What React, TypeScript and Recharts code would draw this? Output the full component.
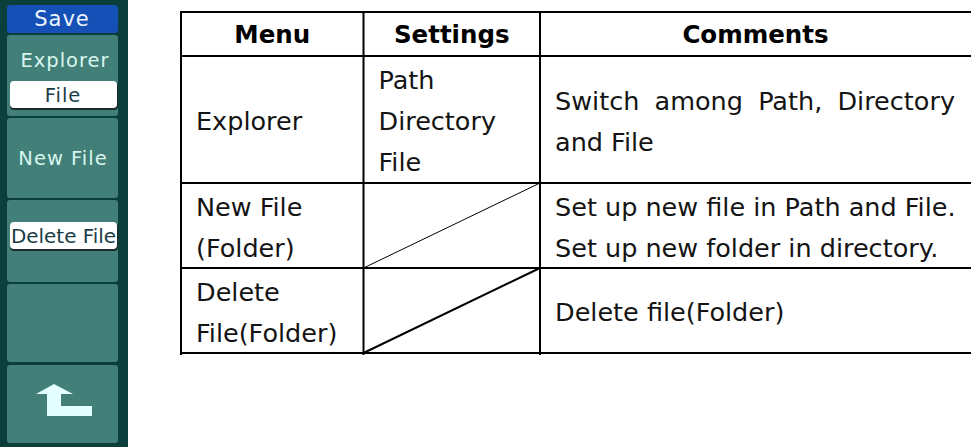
import React from 'react';
import { ComposedChart, XAxis, YAxis, Customized } from 'recharts';

const W = 971;
const H = 447;

// ---- table content ----
const headers = ['Menu', 'Settings', 'Comments'];
const menuCells = [['Explorer'], ['New File', '(Folder)'], ['Delete', 'File(Folder)']];
const settingCells = [['Path', 'Directory', 'File'], [], []];
const commentCells = [
  ['Switch among Path, Directory', 'and File'],
  ['Set up new file in Path and File.', 'Set up new folder in directory.'],
  ['Delete file(Folder)'],
];
const justified = [[true, false], [false, false], [false]];
const diagonalRows = [1, 2];

// ---- softkey menu content ----
const menuTitle = 'Save';
const softkeyLabels = ['Explorer', 'New File', '', '', ''];
const softkeyOptions = ['File', '', 'Delete File', '', ''];
const softkeyIcons = ['', '', '', '', 'return'];

// ---- geometry / style ----
const colX = [181, 363.5, 540, W];
const rowY = [12, 56, 183, 268, 353];
const padX = 15;
const lineGap = 41;
const FONT = '"DejaVu Sans", sans-serif';
const FS = 25.5;
const keyY: [number, number][] = [[35, 116], [118, 198], [200, 282], [284, 362], [365, 443]];

const measure = (text: string, font: string) => {
  const c = document.createElement('canvas').getContext('2d');
  if (!c) return text.length * 12;
  c.font = font;
  return c.measureText(text).width;
};

const Drawing = () => {
  const els: React.ReactNode[] = [];
  // background
  els.push(<rect key="bg" x={0} y={0} width={W} height={H} fill="#ffffff" />);
  // softkey panel
  els.push(<rect key="panel" x={0} y={0} width={128} height={H} fill="#0b3f3b" />);
  els.push(<rect key="title" x={7} y={5} width={111} height={28} rx={3} fill="#1550b6" />);
  els.push(
    <text key="titleT" x={62} y={19} textAnchor="middle" dominantBaseline="central" fontFamily={FONT} fontSize={21} letterSpacing={1} fill="#eef4ff">
      {menuTitle}
    </text>
  );
  keyY.forEach(([y0, y1], i) => {
    els.push(<rect key={`k${i}`} x={7} y={y0} width={111} height={y1 - y0} rx={3} fill="#417f78" />);
    const label = softkeyLabels[i];
    const opt = softkeyOptions[i];
    if (label && opt) {
      els.push(
        <text key={`kl${i}`} x={65} y={60} textAnchor="middle" dominantBaseline="central" fontFamily={FONT} fontSize={19.5} letterSpacing={1} fill="#d8f6ee">
          {label}
        </text>
      );
    } else if (label) {
      els.push(
        <text key={`kl${i}`} x={63} y={(y0 + y1) / 2} textAnchor="middle" dominantBaseline="central" fontFamily={FONT} fontSize={19.5} letterSpacing={1} fill="#d8f6ee">
          {label}
        </text>
      );
    }
    if (opt) {
      const by = label ? 81 : y0 + 22;
      els.push(<rect key={`os${i}`} x={10} y={by + 1} width={108} height={28} rx={4} fill="#1b2a2a" />);
      els.push(<rect key={`ob${i}`} x={10} y={by} width={107} height={27} rx={4} fill="#ffffff" />);
      els.push(
        <text
          key={`ot${i}`}
          x={label ? 63 : 11}
          y={by + 14}
          textAnchor={label ? 'middle' : 'start'}
          dominantBaseline="central"
          fontFamily={FONT}
          fontSize={19.5}
          letterSpacing={label ? 1 : 0}
          textLength={label ? undefined : 105}
          lengthAdjust="spacingAndGlyphs"
          fill="#1a3d46"
        >
          {opt}
        </text>
      );
    }
    if (softkeyIcons[i] === 'return') {
      els.push(
        <polygon
          key={`ic${i}`}
          points="36,394 54,384 73,394 61,394 61,406 92,406 92,416 47,416 47,394"
          fill="#e4ffff"
        />
      );
    }
  });

  // table lines
  const lines: React.ReactNode[] = [];
  rowY.forEach((y, i) => {
    lines.push(<line key={`h${i}`} x1={colX[0] - 1} x2={W} y1={y} y2={y} stroke="#000" strokeWidth={2} />);
  });
  colX.slice(0, 3).forEach((x, i) => {
    lines.push(<line key={`v${i}`} x1={x} x2={x} y1={rowY[0] - 1} y2={rowY[4] + 2} stroke="#000" strokeWidth={2} />);
  });
  diagonalRows.forEach((r, i) => {
    lines.push(
      <line
        key={`d${i}`}
        x1={colX[1]}
        y1={rowY[r + 2]}
        x2={colX[2]}
        y2={rowY[r + 1]}
        stroke="#000"
        strokeWidth={i === 0 ? 1 : 2}
      />
    );
  });
  els.push(...lines);

  // headers
  headers.forEach((h, i) => {
    els.push(
      <text key={`hd${i}`} x={(colX[i] + colX[i + 1]) / 2} y={(rowY[0] + rowY[1]) / 2} textAnchor="middle" dominantBaseline="central" fontFamily={FONT} fontWeight="bold" fontSize={24.5} fill="#000">
        {h}
      </text>
    );
  });

  const font = `${FS}px "DejaVu Sans"`;
  const cellLines = (cells: string[][], col: number, just?: boolean[][]) => {
    cells.forEach((linesArr, r) => {
      const cy = (rowY[r + 1] + rowY[r + 2]) / 2 + 1.5;
      const n = linesArr.length;
      linesArr.forEach((t, k) => {
        const y = cy + (k - (n - 1) / 2) * lineGap;
        const x0 = colX[col] + padX;
        if (just && just[r][k]) {
          const words = t.split(' ');
          const widths = words.map((w) => measure(w, font));
          const total = colX[col + 1] - 16 - x0;
          const gap = (total - widths.reduce((a, b) => a + b, 0)) / (words.length - 1);
          let x = x0;
          words.forEach((w, j) => {
            els.push(
              <text key={`c${col}-${r}-${k}-${j}`} x={x} y={y} dominantBaseline="central" fontFamily={FONT} fontSize={FS} fill="#141414">
                {w}
              </text>
            );
            x += widths[j] + gap;
          });
        } else {
          els.push(
            <text key={`c${col}-${r}-${k}`} x={x0} y={y} dominantBaseline="central" fontFamily={FONT} fontSize={FS} fill="#141414">
              {t}
            </text>
          );
        }
      });
    });
  };
  cellLines(menuCells, 0);
  cellLines(settingCells, 1);
  cellLines(commentCells, 2, justified);

  return <g>{els}</g>;
};

const chartData = [{ x: 0, y: 0 }];

export default function App() {
  return (
    <div style={{ position: 'absolute', left: 0, top: 0, width: W, height: H, background: '#fff' }}>
      <ComposedChart width={W} height={H} data={chartData} margin={{ top: 0, right: 0, bottom: 0, left: 0 }}>
        <XAxis type="number" dataKey="x" domain={[0, W]} hide />
        <YAxis type="number" domain={[0, H]} reversed hide />
        <Customized component={Drawing} />
      </ComposedChart>
    </div>
  );
}
